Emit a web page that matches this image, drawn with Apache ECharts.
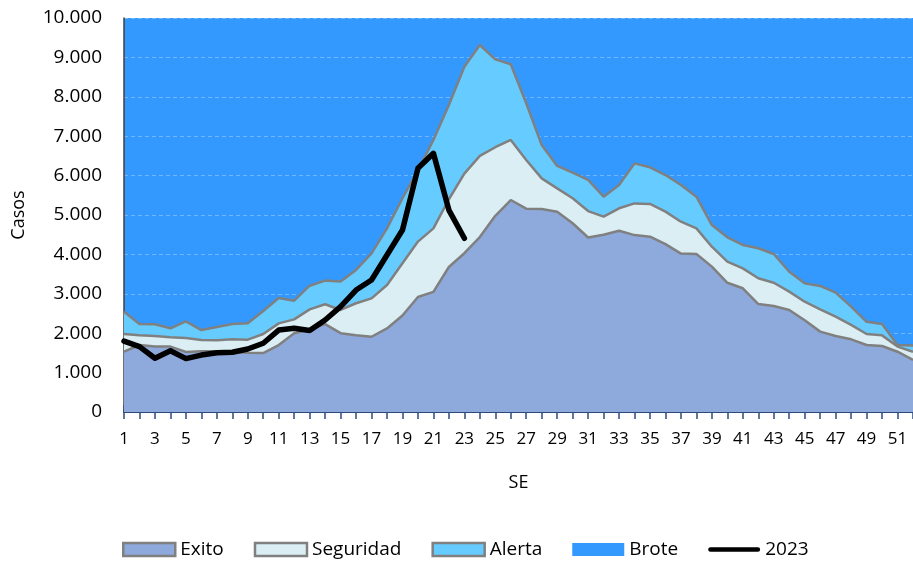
<!DOCTYPE html>
<html><head><meta charset="utf-8">
<script src="https://cdn.jsdelivr.net/npm/echarts@6/dist/echarts.min.js"></script>
<style>html,body{margin:0;padding:0;background:#fff}#c{width:913px;height:563px}</style>
</head><body><div id="c"></div>
<script>
const weeks = ['1','2','3','4','5','6','7','8','9','10','11','12','13','14','15','16','17','18','19','20','21','22','23','24','25','26','27','28','29','30','31','32','33','34','35','36','37','38','39','40','41','42','43','44','45','46','47','48','49','50','51','52'];
const exito = [1530,1700,1665,1660,1525,1545,1540,1525,1505,1495,1700,2000,2100,2230,2000,1950,1910,2120,2450,2920,3050,3680,4030,4440,4980,5380,5160,5150,5080,4790,4430,4500,4600,4490,4450,4260,4020,4010,3690,3280,3140,2740,2690,2590,2330,2040,1930,1845,1700,1675,1530,1320];
const seguridad = [1980,1945,1930,1895,1880,1825,1820,1845,1835,1980,2250,2350,2605,2735,2590,2760,2885,3225,3775,4325,4660,5400,6050,6500,6720,6905,6395,5930,5675,5425,5100,4960,5170,5295,5280,5085,4830,4660,4195,3815,3645,3395,3280,3055,2800,2605,2420,2210,1980,1945,1660,1530];
const alerta = [2545,2235,2225,2125,2300,2080,2155,2235,2250,2565,2895,2825,3205,3335,3310,3605,4025,4660,5425,6140,6905,7790,8765,9315,8950,8825,7835,6775,6245,6075,5890,5465,5760,6310,6210,6015,5760,5465,4745,4435,4240,4155,4010,3560,3265,3200,3030,2675,2290,2235,1700,1690];
const brote = [10000,10000,10000,10000,10000,10000,10000,10000,10000,10000,10000,10000,10000,10000,10000,10000,10000,10000,10000,10000,10000,10000,10000,10000,10000,10000,10000,10000,10000,10000,10000,10000,10000,10000,10000,10000,10000,10000,10000,10000,10000,10000,10000,10000,10000,10000,10000,10000,10000,10000,10000,10000];
const y2023 = [1800,1660,1365,1555,1355,1445,1505,1515,1600,1745,2080,2125,2070,2335,2675,3095,3350,3985,4620,6185,6565,5125,4410];

const FONT = 'Open Sans';
const GRAY = '#808080';
const fmt = v => String(v).replace(/\B(?=(\d{3})+(?!\d))/g, '.');
function area(name, data, color, z, border) {
  return {
    name, type: 'line', data, z,
    symbol: 'none', smooth: false,
    lineStyle: border ? {color: GRAY, width: 2.5} : {width: 0},
    itemStyle: {color},
    areaStyle: {color, opacity: 1},
    emphasis: {disabled: true}, animation: false
  };
}
const chart = echarts.init(document.getElementById('c'), null, {renderer: 'canvas'});
chart.setOption({
  animation: false,
  textStyle: {fontFamily: FONT},
  grid: {left: 124, top: 18, width: 794, height: 394},
  xAxis: [{
    type: 'category', data: weeks, boundaryGap: false,
    name: 'SE', nameLocation: 'middle', nameGap: 62,
    nameTextStyle: {fontSize: 18, color: '#000', fontFamily: FONT},
    axisLine: {lineStyle: {color: '#2E4A7D', width: 2}},
    axisTick: {show: true, interval: 0, length: 7, lineStyle: {color: '#2E4A7D', width: 1.5}},
    axisLabel: {interval: 1, fontSize: 17, color: '#000', margin: 19, fontFamily: FONT},
    splitLine: {show: false}
  }, {
    type: 'category', data: weeks, boundaryGap: false, position: 'bottom',
    axisLine: {show: false},
    axisTick: {show: true, inside: true, interval: 0, length: 7, lineStyle: {color: '#2E4A7D', width: 1.5}},
    axisLabel: {show: false}, splitLine: {show: false}
  }],
  yAxis: {
    type: 'value', min: 0, max: 10000, interval: 1000,
    name: 'Casos', nameLocation: 'middle', nameGap: 96, nameRotate: 90,
    nameTextStyle: {fontSize: 18, color: '#000', fontFamily: FONT},
    axisLine: {show: true, lineStyle: {color: '#404040', width: 1.5}},
    axisTick: {show: false},
    axisLabel: {formatter: fmt, fontSize: 19, color: '#000', margin: 22, fontFamily: FONT},
    splitLine: {show: true, lineStyle: {color: 'rgba(255,255,255,0.3)', type: [4, 3], width: 1}}
  },
  legend: {
    left: 117, top: 535, itemWidth: 52, itemHeight: 13, itemGap: 30,
    textStyle: {fontSize: 19, color: '#000', fontFamily: FONT},
    data: [
      {name: 'Exito', icon: 'rect', itemStyle: {color: '#8EA9DB', borderColor: GRAY, borderWidth: 2.5}},
      {name: 'Seguridad', icon: 'rect', itemStyle: {color: '#DAEEF3', borderColor: GRAY, borderWidth: 2.5}},
      {name: 'Alerta', icon: 'rect', itemStyle: {color: '#66CCFF', borderColor: GRAY, borderWidth: 2.5}},
      {name: 'Brote', icon: 'rect', itemStyle: {color: '#3399FF', borderWidth: 0}},
      {name: '2023', icon: 'path://M0,0L1,0Z M1,4A2.5,2.5,0,0,0,1,9L51,9A2.5,2.5,0,0,0,51,4Z M0,13L1,13Z',
       itemStyle: {color: '#000', borderWidth: 0}}
    ]
  },
  series: [
    area('Brote', brote, '#3399FF', -1, false),
    area('Alerta', alerta, '#66CCFF', 2, true),
    area('Seguridad', seguridad, '#DAEEF3', 3, true),
    area('Exito', exito, '#8EA9DB', 4, true),
    {name: '2023', type: 'line', data: y2023, z: 10, symbol: 'none',
     lineStyle: {color: '#000', width: 5.5, cap: 'round', join: 'round'},
     itemStyle: {color: '#000'}, emphasis: {disabled: true}}
  ]
});
</script></body></html>
